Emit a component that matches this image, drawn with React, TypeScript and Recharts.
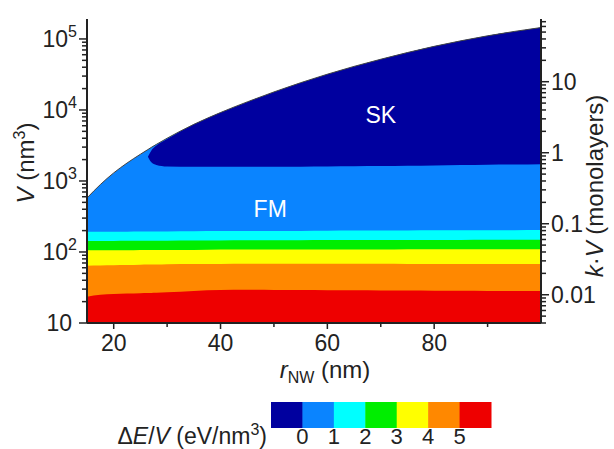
import { Area, ComposedChart, Line, ReferenceDot, XAxis, YAxis } from "recharts"

// r_NW grid (nm) and phase / energy boundaries V (nm^3)
const rNW = [15, 17.5, 20, 22.5, 25, 26.4, 27, 28, 30, 35, 40, 45, 50, 55, 60, 65, 70, 75, 80, 85, 90, 95, 100]
const topEdge = [576, 890, 1300, 1790, 2380, 2770, 2960, 3280, 4000, 6270, 9200, 13000, 17950, 24200, 31900, 41100, 51800, 64400, 78700, 94200, 110700, 127600, 144900]
const skLow = [null, null, null, null, null, 2200, 1850, 1680, 1600, 1585, 1580, 1580, 1585, 1590, 1600, 1610, 1620, 1640, 1655, 1675, 1690, 1705, 1720]
const skHigh = [null, null, null, null, null, 2200, 2650, 3150, 3900, 6270, 9200, 13000, 17950, 24200, 31900, 41100, 51800, 64400, 78700, 94200, 110700, 127600, 144900]
const cyanTop = [192, 192, 193, 193, 194, 194, 194, 195, 195, 196, 197, 197, 198, 198, 199, 200, 200, 201, 202, 202, 203, 203, 204]
const greenTop = [143, 143, 143, 144, 144, 144, 144, 144, 144, 145, 145, 146, 146, 146, 147, 147, 147, 148, 148, 148, 149, 149, 149]
const yellowTop = [106, 106, 106, 106, 107, 107, 107, 107, 107, 107, 108, 108, 108, 108, 108, 108, 108, 109, 109, 109, 109, 109, 109]
const orangeTop = [64, 64.5, 65, 65.5, 66, 66.5, 66.5, 66.5, 67, 67.5, 68, 68.5, 68.5, 68.5, 68.5, 68.5, 68.5, 68, 68, 68, 68, 68, 68]
const redTop = [23.5, 25, 25.7, 26, 26.3, 26.5, 26.5, 26.6, 27, 28.3, 29.2, 29.3, 29.2, 29.1, 29, 28.9, 28.7, 28.6, 28.5, 28.4, 28.3, 28.2, 28.2]

// axes
const xTicks = [20, 30, 40, 50, 60, 70, 80, 90]
const vDomain = [10, 191000]
const kFactor = 2500 // V (nm^3) per monolayer
const leftDecades = [10, 100, 1000, 10000, 100000]
const rightDecades = [0.001, 0.01, 0.1, 1, 10]

// colour bar
const cbColors = ["#00009f", "#0a84ff", "#00ffff", "#00ee00", "#ffff00", "#ff8800", "#ee0000"]
const cbLabels = ["0", "1", "2", "3", "4", "5"]

const data = rNW.map((r, i) => ({
  r,
  top: topEdge[i],
  skLow: skLow[i],
  skHigh: skHigh[i],
  cyan: cyanTop[i],
  green: greenTop[i],
  yellow: yellowTop[i],
  orange: orangeTop[i],
  red: redTop[i],
}))

const rightDomain = [vDomain[0] / kFactor, vDomain[1] / kFactor]

function logTicks(decades: number[], lo: number, hi: number) {
  const out: number[] = []
  decades.forEach((d) => {
    for (let m = 1; m <= 9; m++) {
      const v = Number((d * m).toPrecision(6))
      if (v >= lo && v <= hi) out.push(v)
    }
  })
  return out
}

const leftTicks = logTicks(leftDecades, vDomain[0], vDomain[1])
const rightTicks = logTicks(rightDecades, rightDomain[0], rightDomain[1])

const ink = "#222"
const fs = 23

const isDecade = (v: number) => Math.abs(Math.log10(v) - Math.round(Math.log10(v))) < 1e-6

function LeftTick(props: any) {
  const { x, y, payload } = props
  const v = payload.value
  const major = isDecade(v)
  const e = Math.round(Math.log10(v))
  return (
    <g>
      <line x1={x} x2={x - (major ? 8 : 5)} y1={y} y2={y} stroke={ink} strokeWidth={1.5} />
      {major &&
        (e === 1 ? (
          <text x={x - 15} y={y + 8} textAnchor="end" fontSize={fs} fill={ink}>
            10
          </text>
        ) : (
          <text x={x - 10} y={y + 8} textAnchor="end" fontSize={fs} fill={ink}>
            10
            <tspan fontSize={16} dy={-10}>
              {e}
            </tspan>
          </text>
        ))}
    </g>
  )
}

function RightTick(props: any) {
  const { x, y, payload } = props
  const v = payload.value
  const major = isDecade(v)
  return (
    <g>
      <line x1={x} x2={x + (major ? 8 : 5)} y1={y} y2={y} stroke={ink} strokeWidth={1.5} />
      {major && (
        <text x={x + 10} y={y + 8} textAnchor="start" fontSize={fs} fill={ink}>
          {String(v)}
        </text>
      )}
    </g>
  )
}

function BottomTick(props: any) {
  const { x, y, payload } = props
  const major = payload.value % 20 === 0
  return (
    <g>
      <line x1={x} x2={x} y1={y} y2={y + (major ? 6 : 4)} stroke={ink} strokeWidth={1.5} />
      {major && (
        <text x={x} y={y + 28} textAnchor="middle" fontSize={fs} fill={ink}>
          {payload.value}
        </text>
      )}
    </g>
  )
}

function TopTick(props: any) {
  const { x, y, payload } = props
  const major = payload.value % 20 === 0
  return <line x1={x} x2={x} y1={y} y2={y - (major ? 7 : 4)} stroke={ink} strokeWidth={1.5} />
}

function Overlay() {
  const x0 = 271
  const w = 220 / cbColors.length
  return (
    <svg width={614} height={449} style={{ position: "absolute", left: 0, top: 0, pointerEvents: "none" }}>
      {/* axis titles */}
      <text x={325} y={378} textAnchor="middle" fontSize={24} fill={ink}>
        <tspan fontStyle="italic">r</tspan>
        <tspan fontSize={16} dy={5}>
          NW
        </tspan>
        <tspan dy={-5}> (nm)</tspan>
      </text>
      <text x={0} y={0} transform="translate(34,163) rotate(-90)" textAnchor="middle" fontSize={24} fill={ink}>
        <tspan fontStyle="italic">V</tspan>
        <tspan> (nm</tspan>
        <tspan fontSize={16} dy={-9}>
          3
        </tspan>
        <tspan dy={9}>)</tspan>
      </text>
      <text x={0} y={0} transform="translate(603,186) rotate(-90)" textAnchor="middle" fontSize={24} fill={ink}>
        <tspan fontStyle="italic">k</tspan>
        <tspan>·</tspan>
        <tspan fontStyle="italic">V</tspan>
        <tspan> (monolayers)</tspan>
      </text>
      {/* colour bar */}
      {cbColors.map((c, i) => (
        <rect key={c} x={x0 + i * w} y={402} width={w + 0.5} height={26} fill={c} />
      ))}
      {cbLabels.map((t, i) => (
        <text key={t} x={x0 + (i + 1) * w} y={444} textAnchor="middle" fontSize={22} fill={ink}>
          {t}
        </text>
      ))}
      <text x={267} y={444} textAnchor="end" fontSize={fs} fill={ink}>
        <tspan>Δ</tspan>
        <tspan fontStyle="italic">E</tspan>
        <tspan>/</tspan>
        <tspan fontStyle="italic">V</tspan>
        <tspan> (eV/nm</tspan>
        <tspan fontSize={16} dy={-9}>
          3
        </tspan>
        <tspan dy={9}>)</tspan>
      </text>
    </svg>
  )
}

const axisLine = { stroke: ink, strokeWidth: 2 }

export default function App() {
  return (
    <div
      style={{
        position: "absolute",
        left: 0,
        top: 0,
        width: 614,
        height: 449,
        background: "#fff",
        fontFamily: "'Liberation Sans', Arial, sans-serif",
      }}
    >
      <ComposedChart width={614} height={449} data={data} margin={{ top: 19, right: 0, bottom: 0, left: 0 }}>
        <XAxis
          xAxisId="bottom"
          dataKey="r"
          type="number"
          domain={[15, 100]}
          allowDataOverflow
          ticks={xTicks}
          interval={0}
          height={126}
          tickSize={0}
          tickMargin={0}
          tickLine={false}
          axisLine={axisLine}
          tick={<BottomTick />}
        />
        <XAxis
          xAxisId="top"
          orientation="top"
          dataKey="r"
          type="number"
          domain={[15, 100]}
          allowDataOverflow
          ticks={xTicks}
          interval={0}
          height={0}
          tickSize={0}
          tickMargin={0}
          tickLine={false}
          axisLine={axisLine}
          tick={<TopTick />}
        />
        <YAxis
          yAxisId="left"
          type="number"
          scale="log"
          domain={vDomain}
          allowDataOverflow
          ticks={leftTicks}
          interval={0}
          width={87}
          tickSize={0}
          tickMargin={0}
          tickLine={false}
          axisLine={axisLine}
          tick={<LeftTick />}
        />
        <YAxis
          yAxisId="right"
          orientation="right"
          type="number"
          scale="log"
          domain={rightDomain}
          allowDataOverflow
          ticks={rightTicks}
          interval={0}
          width={73}
          tickSize={0}
          tickMargin={0}
          tickLine={false}
          axisLine={axisLine}
          tick={<RightTick />}
        />
        <Area xAxisId="bottom" yAxisId="left" type="monotone" dataKey="top" baseValue={10} fill="#0a84ff" fillOpacity={1} stroke="none" isAnimationActive={false} />
        <Area
          xAxisId="bottom"
          yAxisId="left"
          type="monotone"
          dataKey={(d: any) => (d.skLow == null ? null : [d.skLow, d.skHigh])}
          fill="#00009f"
          fillOpacity={1}
          stroke="none"
          isAnimationActive={false}
        />
        <Area xAxisId="bottom" yAxisId="left" type="monotone" dataKey="cyan" baseValue={10} fill="#00ffff" fillOpacity={1} stroke="none" isAnimationActive={false} />
        <Area xAxisId="bottom" yAxisId="left" type="monotone" dataKey="green" baseValue={10} fill="#00ee00" fillOpacity={1} stroke="none" isAnimationActive={false} />
        <Area xAxisId="bottom" yAxisId="left" type="monotone" dataKey="yellow" baseValue={10} fill="#ffff00" fillOpacity={1} stroke="none" isAnimationActive={false} />
        <Area xAxisId="bottom" yAxisId="left" type="monotone" dataKey="orange" baseValue={10} fill="#ff8800" fillOpacity={1} stroke="none" isAnimationActive={false} />
        <Area xAxisId="bottom" yAxisId="left" type="monotone" dataKey="red" baseValue={10} fill="#ee0000" fillOpacity={1} stroke="none" isAnimationActive={false} />
        <Line xAxisId="bottom" yAxisId="left" type="monotone" dataKey="top" stroke="#444" strokeWidth={1} dot={false} activeDot={false} isAnimationActive={false} />
        <ReferenceDot xAxisId="bottom" yAxisId="left" x={70} y={8500} r={0} label={{ value: "SK", position: "center", fill: "#fff", fontSize: fs }} />
        <ReferenceDot xAxisId="bottom" yAxisId="left" x={49.3} y={404} r={0} label={{ value: "FM", position: "center", fill: "#fff", fontSize: fs }} />
      </ComposedChart>
      <Overlay />
    </div>
  )
}
